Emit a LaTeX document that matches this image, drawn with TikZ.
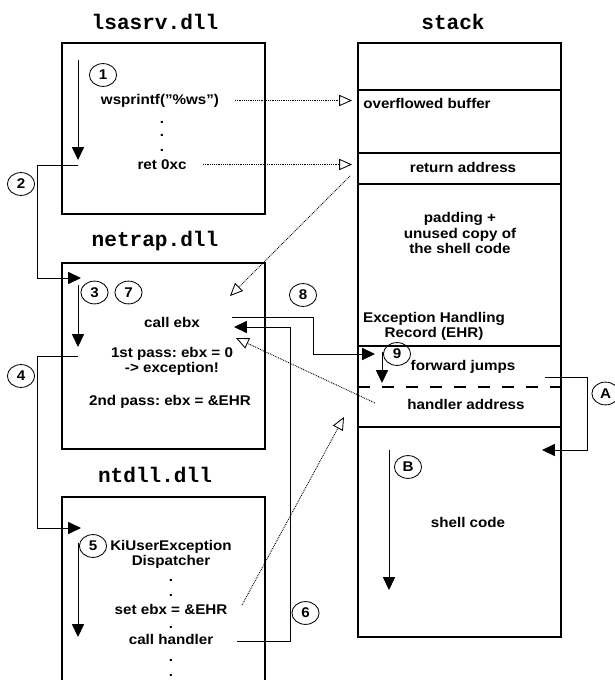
\documentclass[tikz,border=0pt]{standalone}
\usepackage{fontspec}
\setmainfont{Liberation Sans}[FakeStretch=1.08]
\setmonofont{Liberation Mono}
\usetikzlibrary{arrows.meta,shapes.geometric}
\frenchspacing

\begin{document}
\begin{tikzpicture}[x=2.5mm, y=-2.5mm,
    every node/.style={font=\fontsize{10}{10.7}\selectfont\bfseries, inner sep=0pt},
    ttl/.style={font=\fontsize{15}{15}\selectfont\ttfamily\bfseries},
    box/.style={draw, line width=0.8pt},
    num/.style={ellipse, draw, line width=0.6pt, minimum width=6.8mm, minimum height=5.7mm},
    arr/.style={-{Triangle[length=3.2mm,width=3mm]}, line width=0.7pt},
    ptr/.style={-{Triangle[open,length=3.2mm,width=2.8mm,line width=0.6pt]}, line width=0.65pt, dash pattern=on 0.6pt off 0.7pt}
]
  \path[use as bounding box] (0,0) rectangle (61.4,68.0);

  % titles
  \node[ttl] (tlsa) at (15.5,2.2)  {lsasrv.dll};
  \node[ttl] (tstk) at (45.3,2.2)  {stack};
  \node[ttl] (tnet) at (15.5,24.1) {netrap.dll};
  \node[ttl] (tntd) at (15.5,47.5) {ntdll.dll};

  % modules
  \draw[box] (6.2,4.3) rectangle (26.5,21.4);
  \draw[box] (6.2,26.3) rectangle (26.5,44.9);
  \draw[box] (6.2,69) |- (26.5,49.7) -- (26.5,69);

  % stack
  \draw[box] (35.8,4.3) rectangle (56.1,63.7);
  \foreach \y in {9.0,15.3,18.4,34.6,42.7}
    \draw[box] (35.8,\y) -- (56.1,\y);
  \draw[box, dash pattern=on 3mm off 3mm] (35.8,38.7) -- (56.1,38.7);

  \node[anchor=west] (buf) at (36.3,10.35) {overflowed buffer};
  \node (rad) at (46.3,16.75) {return address};
  \node[align=center] (pad) at (46.0,23.3) {padding +\\unused copy of\\the shell code};
  \node[align=center] (ehr) at (43.4,32.6) {Exception Handling\\Record (EHR)};
  \node (fwd) at (46.3,36.7) {forward jumps};
  \node (hdl) at (46.6,40.4) {handler address};
  \node (shc) at (46.8,52.2) {shell code};

  % lsasrv.dll
  \node (wsp) at (16.0,10.05) {wsprintf("\%ws")};
  \foreach \d [count=\i] in {12.2,13.5,15.0}
    \node (ld\i) at (16.2,\d) {.};
  \node (ret) at (16.2,16.45) {ret 0xc};

  % netrap.dll
  \node (cbx) at (17.2,32.2) {call ebx};
  \node[align=center] (ps1) at (17.2,36.1) {1st pass: ebx = 0\\-> exception!};
  \node (ps2) at (17.0,40.2) {2nd pass: ebx = \&EHR};

  % ntdll.dll
  \node[align=center] (kiu) at (17.1,55.4) {KiUserException\\Dispatcher};
  \foreach \d [count=\i] in {58.0,59.5}
    \node (ka\i) at (17.1,\d) {.};
  \node (seb) at (17.1,60.9) {set ebx = \&EHR};
  \node (kb1) at (17.1,62.7) {.};
  \node (chd) at (17.1,63.9) {call handler};
  \foreach \d [count=\i] in {66.0,67.5}
    \node (kc\i) at (17.1,\d) {.};

  % step numbers
  \node[num] (n1) at (10.3,7.5)   {1};
  \node[num] (n2) at (2.1,18.4)   {2};
  \node[num] (n3) at (9.45,29.25) {3};
  \node[num] (n7) at (12.85,29.25) {7};
  \node[num] (n4) at (2.1,37.6)   {4};
  \node[num] (n8) at (30.3,29.5)  {8};
  \node[num] (n9) at (39.7,35.4)  {9};
  \node[num] (nA) at (60.55,39.35) {A};
  \node[num] (n5) at (9.3,54.6)   {5};
  \node[num] (nB) at (40.8,46.7)  {B};
  \node[num] (n6) at (30.55,61.3) {6};

  % control flow
  \coordinate (f1a) at (7.8,6.0);   \coordinate (f1b) at (7.8,16.0);
  \coordinate (f2a) at (7.8,16.5);  \coordinate (f2b) at (8.1,27.8);
  \coordinate (f3a) at (7.8,28.5);  \coordinate (f3b) at (7.8,34.7);
  \coordinate (f4a) at (7.8,35.6);  \coordinate (f4b) at (8.1,52.8);
  \coordinate (f5a) at (7.8,54.3);  \coordinate (f5b) at (7.8,63.7);
  \coordinate (f6a) at (23.7,64.1); \coordinate (f6b) at (23.4,32.7);
  \coordinate (f8a) at (23.2,31.7); \coordinate (f8b) at (37.5,35.4);
  \coordinate (f9a) at (38.2,35.2); \coordinate (f9b) at (38.2,38.3);
  \coordinate (fAa) at (54.5,37.7); \coordinate (fAb) at (54.2,45.0);
  \coordinate (fBa) at (38.9,45.0); \coordinate (fBb) at (38.9,59.0);

  \draw[arr] (f1a) -- (f1b);
  \draw[arr] (f2a) -- ++(-4.1,0) |- (f2b);
  \draw[arr] (f3a) -- (f3b);
  \draw[arr] (f4a) -- ++(-4.1,0) |- (f4b);
  \draw[arr] (f5a) -- (f5b);
  \draw[arr] (f6a) -- ++(5.3,0) |- (f6b);
  \draw[arr] (f8a) -- ++(8.1,0) |- (f8b);
  \draw[arr] (f9a) -- (f9b);
  \draw[arr] (fAa) -- ++(4.2,0) |- (fAb);
  \draw[arr] (fBa) -- (fBb);

  % pointers
  \coordinate (p1a) at (23.5,10.05); \coordinate (p1b) at (35.2,10.05);
  \coordinate (p2a) at (20.3,16.45); \coordinate (p2b) at (35.2,16.45);
  \coordinate (p3a) at (35.0,17.6);  \coordinate (p3b) at (23.0,29.6);
  \coordinate (p4a) at (37.5,40.3);  \coordinate (p4b) at (23.6,33.8);
  \coordinate (p5a) at (24.2,60.5);  \coordinate (p5b) at (34.4,41.7);

  \draw[ptr] (p1a) -- (p1b);
  \draw[ptr] (p2a) -- (p2b);
  \draw[ptr] (p3a) -- (p3b);
  \draw[ptr] (p4a) -- (p4b);
  \draw[ptr] (p5a) -- (p5b);
\end{tikzpicture}
\end{document}
